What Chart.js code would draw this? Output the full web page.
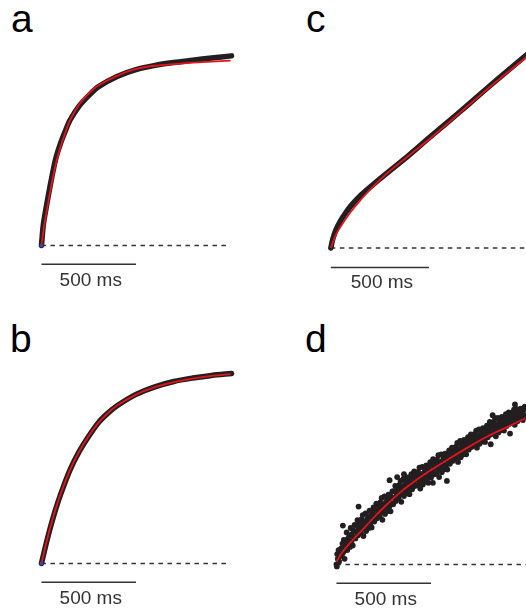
<!DOCTYPE html>
<html>
<head>
<meta charset="utf-8">
<script src="https://cdn.jsdelivr.net/npm/chart.js@4.4.1/dist/chart.umd.min.js"></script>
<style>
  html, body { margin: 0; padding: 0; background: #fff; overflow: hidden; }
  body { width: 526px; height: 612px; position: relative; }
  canvas { position: absolute; }
  .tag { position: absolute; font: 39px "Liberation Sans", Arial, sans-serif; line-height: 38px; color: #000; }
</style>
</head>
<body>
<div class="tag" style="left:11px;top:0px">a</div>
<div class="tag" style="left:306px;top:0px">c</div>
<div class="tag" style="left:10px;top:320px">b</div>
<div class="tag" style="left:305px;top:320px">d</div>

<canvas id="panel-a" width="216" height="255" style="left:28px;top:42px"></canvas>
<canvas id="panel-c" width="216" height="255" style="left:321px;top:42px"></canvas>
<canvas id="panel-b" width="216" height="255" style="left:28px;top:360px"></canvas>
<canvas id="panel-d" width="216" height="255" style="left:323px;top:361px"></canvas>

<script>
// time in ms, response normalised to the plateau of panel a
const aData = [[0,0],[10,0.11],[25,0.2],[50,0.335],[75,0.455],[100,0.535],[125,0.6],[150,0.658],[200,0.735],[250,0.789],[300,0.835],[400,0.89],[500,0.926],[600,0.948],[700,0.963],[800,0.975],[900,0.987],[1005,0.998]];
const aFit = [[0,0],[10,0.075],[25,0.165],[50,0.303],[75,0.425],[100,0.517],[125,0.59],[150,0.657],[200,0.743],[250,0.8],[300,0.842],[400,0.893],[500,0.929],[600,0.946],[700,0.955],[800,0.962],[900,0.968],[1000,0.973]];

const bData = [[0,0],[25,0.105],[50,0.2],[75,0.285],[100,0.36],[150,0.49],[200,0.59],[250,0.67],[300,0.74],[350,0.79],[400,0.83],[500,0.89],[600,0.93],[700,0.958],[800,0.976],[900,0.99],[1005,1.0]];
const bFit = [[0,0],[25,0.107],[50,0.203],[75,0.287],[100,0.362],[150,0.49],[200,0.59],[250,0.671],[300,0.739],[350,0.79],[400,0.831],[500,0.889],[600,0.928],[700,0.955],[800,0.973],[900,0.987],[1000,0.997]];

const cData = [[0,0],[10,0.045],[25,0.09],[50,0.14],[75,0.178],[100,0.212],[150,0.266],[200,0.31],[250,0.352],[300,0.393],[400,0.475],[500,0.561],[600,0.645],[700,0.731],[800,0.818],[900,0.903],[1000,0.987]];
const cFit = [[0,0],[25,0.065],[50,0.109],[100,0.182],[150,0.243],[200,0.297],[250,0.347],[300,0.392],[400,0.473],[500,0.553],[600,0.639],[700,0.726],[800,0.812],[900,0.895],[1000,0.976]];

const dFit = [[0,0.015],[25,0.056],[50,0.089],[100,0.144],[150,0.196],[200,0.25],[250,0.3],[300,0.347],[350,0.39],[400,0.428],[450,0.464],[500,0.497],[600,0.559],[700,0.619],[800,0.675],[900,0.722],[1000,0.77]];
const dData = [
  [0,0.00],[2,-0.01],[4,0.055],[7,0.03],[11,0.076],[14,0.016],[18,0.046],[21,0.067],
  [25,0.085],[29,0.045],[32,0.11],[34,0.205],[36,0.065],[39,0.13],[43,0.03],[46,0.095],
  [50,0.103],[54,0.169],[57,0.076],[61,0.136],[64,0.12],[68,0.153],[71,0.092],
  [75,0.192],[79,0.123],[82,0.158],[86,0.10],[89,0.181],[93,0.14],[96,0.209],
  [100,0.137],[104,0.206],[107,0.171],[111,0.234],[114,0.154],[117,0.305],[118,0.194],[121,0.223],
  [125,0.211],[129,0.167],[132,0.238],[136,0.189],[139,0.26],[143,0.15],[146,0.222],
  [150,0.203],[154,0.269],[157,0.176],[161,0.236],[164,0.22],[168,0.253],[171,0.192],
  [175,0.283],[179,0.217],[182,0.25],[186,0.195],[189,0.272],[193,0.234],[196,0.30],
  [200,0.226],[204,0.292],[207,0.259],[211,0.32],[214,0.243],[218,0.281],[221,0.309],
  [225,0.298],[229,0.252],[232,0.327],[236,0.275],[239,0.35],[243,0.235],[246,0.31],
  [250,0.293],[254,0.359],[257,0.266],[261,0.326],[264,0.31],[268,0.343],[271,0.282],
  [275,0.368],[279,0.302],[281,0.444],[282,0.335],[286,0.28],[289,0.357],[293,0.319],[296,0.385],
  [300,0.317],[304,0.386],[307,0.351],[311,0.414],[314,0.334],[318,0.374],[321,0.403],[321,0.46],
  [325,0.391],[329,0.347],[332,0.418],[336,0.369],[339,0.44],[343,0.33],[346,0.402],
  [350,0.387],[354,0.45],[357,0.36],[357,0.475],[361,0.418],[364,0.402],[368,0.434],[371,0.376],
  [375,0.458],[379,0.392],[382,0.425],[386,0.37],[389,0.447],[393,0.409],[396,0.475],
  [400,0.396],[404,0.462],[407,0.429],[411,0.49],[414,0.413],[418,0.451],[421,0.479],
  [425,0.461],[429,0.417],[432,0.488],[436,0.439],[439,0.51],[443,0.40],[446,0.472],
  [450,0.448],[454,0.514],[457,0.421],[461,0.481],[464,0.465],[468,0.498],[471,0.437],
  [475,0.522],[479,0.453],[482,0.488],[486,0.43],[489,0.511],[493,0.47],[496,0.539],
  [500,0.457],[504,0.526],[507,0.491],[510,0.43],[511,0.554],[514,0.474],[518,0.514],[521,0.543],
  [525,0.523],[529,0.477],[532,0.552],[536,0.50],[539,0.575],[543,0.46],[546,0.535],
  [550,0.513],[554,0.579],[557,0.486],[561,0.546],[564,0.53],[568,0.563],[571,0.502],
  [575,0.584],[579,0.521],[582,0.553],[584,0.44],[586,0.50],[589,0.574],[593,0.537],[596,0.60],
  [600,0.53],[604,0.59],[607,0.56],[611,0.615],[614,0.545],[618,0.58],[621,0.605],
  [625,0.595],[629,0.555],[632,0.62],[636,0.575],[639,0.64],[643,0.54],[646,0.605],
  [650,0.59],[654,0.65],[657,0.565],[661,0.62],[664,0.605],[668,0.635],[671,0.58],
  [675,0.656],[679,0.599],[682,0.628],[686,0.58],[689,0.647],[693,0.613],[696,0.67],
  [700,0.605],[704,0.662],[707,0.633],[711,0.685],[714,0.619],[718,0.652],[721,0.676],
  [725,0.665],[729,0.629],[732,0.687],[736,0.647],[739,0.705],[743,0.615],[746,0.674],
  [750,0.657],[754,0.711],[757,0.635],[761,0.684],[764,0.671],[768,0.698],[771,0.648],
  [775,0.717],[779,0.663],[782,0.69],[786,0.645],[789,0.708],[793,0.677],[796,0.731],
  [800,0.67],[804,0.727],[807,0.698],[811,0.75],[814,0.684],[816,0.633],[818,0.717],[821,0.741],
  [825,0.727],[826,0.786],[829,0.689],[832,0.751],[836,0.708],[839,0.77],[843,0.675],[846,0.737],
  [850,0.717],[854,0.771],[857,0.695],[861,0.744],[864,0.731],[868,0.758],[871,0.708],
  [875,0.777],[879,0.723],[882,0.75],[886,0.705],[889,0.768],[893,0.737],[896,0.791],
  [900,0.729],[904,0.78],[907,0.754],[911,0.801],[914,0.741],[918,0.689],[918,0.771],[921,0.792],
  [925,0.779],[929,0.747],[932,0.799],[936,0.763],[939,0.815],[943,0.735],[944,0.842],[946,0.787],
  [950,0.773],[954,0.818],[957,0.754],[961,0.795],[964,0.784],[968,0.806],[971,0.765],
  [975,0.82],[979,0.775],[982,0.798],[986,0.76],[989,0.813],[993,0.786],[996,0.831],
  [1000,0.78],[1004,0.83]
];

const baselineShort = [[0,0],[1000,0]];
const baselineLong = [[0,0],[1060,0]];
const startPoint = [[0,0]];

const scaleBarMs = 500;
const scaleBarLevel = -0.099;
const scaleBarLabel = '500 ms';

const black = '#231f20';
const red = '#e3141b';
const grey = '#333333';

// scale bar + label under each trace
const scaleBar = {
    id: 'scaleBar',
    afterDatasetsDraw(chart) {
        const { ctx, scales: { x, y } } = chart;
        const x0 = x.getPixelForValue(0);
        const x1 = x.getPixelForValue(scaleBarMs);
        const yb = y.getPixelForValue(scaleBarLevel);
        ctx.save();
        ctx.strokeStyle = grey;
        ctx.lineWidth = 1.5;
        ctx.beginPath();
        ctx.moveTo(x0, yb);
        ctx.lineTo(x1, yb);
        ctx.stroke();
        ctx.fillStyle = grey;
        ctx.font = '19px "Liberation Sans", Arial, sans-serif';
        ctx.textAlign = 'center';
        ctx.textBaseline = 'alphabetic';
        ctx.fillText(scaleBarLabel, (x0 + x1) / 2 + 2, y.getPixelForValue(0) + 40);
        ctx.restore();
    }
};

function fitLine(data) {
    return { data, showLine: true, borderColor: red, borderWidth: 1.8, pointRadius: 0, tension: 0.3, clip: false };
}
function thickTrace(data) {
    return { data, showLine: true, borderColor: black, borderWidth: 5.5, borderCapStyle: 'round', pointRadius: 0, tension: 0.3, clip: false };
}
function dashed(data) {
    return { data, showLine: true, borderColor: grey, borderWidth: 1.6, borderDash: [4.5, 4.5], pointRadius: 0, clip: false };
}
function dot() {
    return { data: startPoint, showLine: false, pointRadius: 2, pointBackgroundColor: '#40409a', pointBorderWidth: 0, clip: false };
}

function makePanel(id, datasets) {
    new Chart(document.getElementById(id), {
        type: 'scatter',
        data: { datasets },
        options: {
            responsive: false,
            animation: false,
            events: [],
            layout: { padding: 0 },
            plugins: { legend: { display: false }, tooltip: { enabled: false } },
            scales: {
                x: { type: 'linear', min: -50, max: 1050, display: false },
                y: { type: 'linear', min: -0.25, max: 1.05, display: false }
            }
        },
        plugins: [scaleBar]
    });
}

makePanel('panel-a', [dot(), fitLine(aFit), thickTrace(aData), dashed(baselineShort)]);
makePanel('panel-b', [dot(), fitLine(bFit), thickTrace(bData), dashed(baselineShort)]);
makePanel('panel-c', [fitLine(cFit), thickTrace(cData), dashed(baselineLong)]);
makePanel('panel-d', [
    fitLine(dFit),
    { data: dData, showLine: false, pointRadius: 2.9, pointBackgroundColor: black, pointBorderWidth: 0, clip: false },
    dashed(baselineLong)
]);
</script>
</body>
</html>
